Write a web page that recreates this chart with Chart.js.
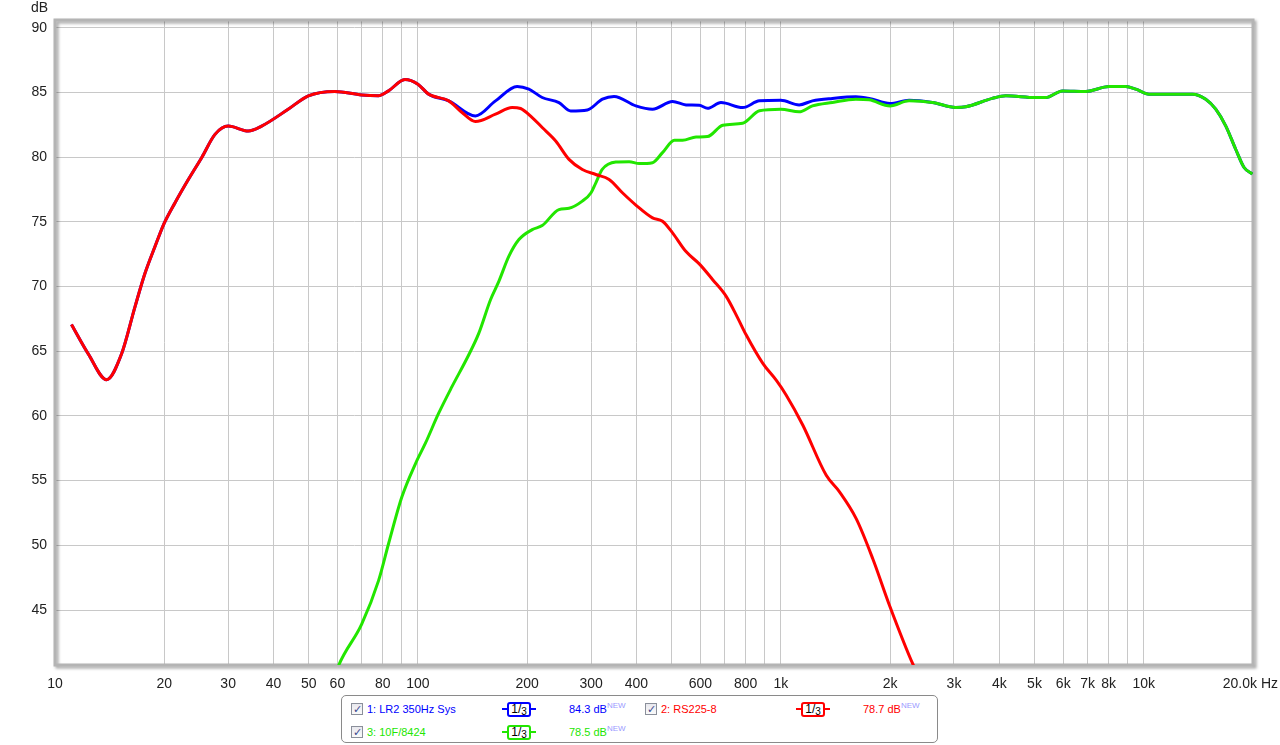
<!DOCTYPE html>
<html lang="en">
<head>
    <meta charset="UTF-8">
    <title>Frequency response</title>
    <script src="https://cdn.jsdelivr.net/npm/chart.js"></script>
    <style>
        body { margin: 0; background: #fff; font-family: 'Liberation Sans', Arial, sans-serif; }
        #wrap { position: relative; width: 1280px; height: 745px; overflow: hidden; }
        #chart { position: absolute; left: 0; top: 0; }
        .axisText { position: absolute; font-size: 14px; line-height: 16px; color: #222; white-space: nowrap; }
        #legend { position: absolute; left: 341px; top: 695px; width: 595px; height: 46px;
                  border: 1px solid #8a8a8a; border-radius: 5px; background: #fff; }
        .item { position: absolute; font-size: 11px; line-height: 14px; white-space: nowrap; }
        .chk { position: absolute; width: 10px; height: 10px; border: 1px solid #8a8f9a;
               background: linear-gradient(#e8e8ee, #fafafa); font-size: 11px; line-height: 10px;
               text-align: center; color: #3a4a90; }
        .frac { position: absolute; width: 34px; height: 15px; }
        .frac .ln { position: absolute; left: 0; top: 6px; width: 34px; height: 2px; }
        .frac .bx { position: absolute; left: 5px; top: 0; width: 20px; height: 11px; border: 2px solid;
                    border-radius: 3px; background: #fff; color: #000; font-size: 12px; line-height: 11px;
                    text-align: center; }
        .frac sub { font-size: 10px; vertical-align: -2px; line-height: 0; }
        .new { font-size: 8px; color: #9a9aff; vertical-align: 5px; line-height: 0; }
    </style>
</head>
<body>
<div id="wrap">
    <canvas id="chart" width="1280" height="745"></canvas>
    <div class="axisText" style="left:31px; top:-1px;">dB</div>
    <div class="axisText" style="right:2px; top:675px;">20.0k Hz</div>
    <div id="legend"></div>
</div>
<script>
    // 1: LR2 350Hz Sys (blue)
    const sysFreq = [11.1, 12.35, 13.88, 15.26, 16.61, 17.7, 18.86, 20, 21.4, 23.3, 25.4, 27.6, 30, 34.1, 37.1,
        43.9, 49.9, 59, 70, 77.8, 82.8, 92.1, 100, 107, 121.6, 144, 163.6, 187.7, 202.2, 220, 244.7, 263.6,
        293, 322.4, 347, 398.6, 443, 503, 548, 596, 628, 684, 785, 873, 1000, 1123, 1222, 1387, 1609, 1751,
        2000, 2256, 2616, 3034, 3233, 3827, 4168, 5040, 5370, 5968, 6922, 8024, 8920, 9506, 10343, 11500,
        13610, 14820, 15790, 16820, 17920, 18900, 19920];
    const sysDb = [67.07, 64.8, 62.8, 64.8, 68.43, 71.02, 73.09, 74.9, 76.46, 78.27, 80.0, 81.76, 82.4, 82.02, 82.4,
        83.7, 84.74, 85.08, 84.8, 84.74, 85.1, 86.0, 85.64, 84.87, 84.35, 83.18, 84.35, 85.47, 85.26, 84.61, 84.22, 83.57,
        83.65, 84.48, 84.69, 83.96, 83.7, 84.3, 84.04, 84.01, 83.78, 84.22, 83.83, 84.35, 84.4, 84.04, 84.35, 84.54, 84.66, 84.54,
        84.15, 84.4, 84.23, 83.84, 83.89, 84.54, 84.74, 84.61, 84.61, 85.12, 85.08, 85.46, 85.46, 85.26, 84.87, 84.87,
        84.87, 84.48, 83.71, 82.42, 80.61, 79.2, 78.7];

    // 2: RS225-8 (red)
    const wooferFreq = [11.1, 12.35, 13.88, 15.26, 16.61, 17.7, 18.86, 20, 21.4, 23.3, 25.4, 27.6, 30, 34.1, 37.1,
        43.9, 49.9, 59, 70, 77.8, 82.8, 92.1, 100, 107, 121.6, 132.3, 144, 163.6, 181.8, 191.8, 206.5, 220, 239.7,
        260.8, 283.8, 309, 336.4, 366, 398.6, 443, 472, 503, 548, 596, 649, 707, 761, 803, 892, 971, 1035,
        1150, 1334, 1451, 1613, 1792, 1993, 2310, 2400];
    const wooferDb = [67.07, 64.8, 62.8, 64.8, 68.43, 71.02, 73.09, 74.9, 76.46, 78.27, 80.0, 81.76, 82.4, 82.02, 82.4,
        83.7, 84.74, 85.08, 84.8, 84.74, 85.1, 86.0, 85.64, 84.87, 84.35, 83.45, 82.75, 83.32, 83.84, 83.76, 83.06, 82.29, 81.25,
        79.83, 79.05, 78.66, 78.28, 77.25, 76.3, 75.31, 75.05, 74.15, 72.7, 71.75, 70.53, 69.24, 67.56, 66.25, 64.06, 62.76, 61.6,
        59.28, 55.41, 54.13, 52.06, 48.96, 45.35, 40.83, 39.9];

    // 3: 10F/8424 (green)
    const tweeterFreq = [59, 60.4, 70, 77.9, 83, 90.3, 98.5, 104.8, 114, 124.1, 138, 147.2, 158.5, 167.1, 178, 189.8,
        206.5, 220, 244.7, 260.8, 283.8, 300, 309, 322, 351, 382, 407, 443, 472, 509, 536, 584, 628, 692, 785,
        873, 1000, 1123, 1222, 1387, 1609, 1751, 2000, 2256, 2616, 3034, 3233, 3827, 4168, 5040, 5370, 5968,
        6922, 8024, 8920, 9506, 10343, 11500, 13610, 14820, 15790, 16820, 17920, 18900, 19920];
    const tweeterDb = [39.8, 40.68, 43.91, 47.27, 50.12, 53.73, 56.32, 57.87, 60.19, 62.26, 64.71, 66.4, 68.98, 70.4, 72.33, 73.63,
        74.4, 74.71, 75.95, 76.05, 76.6, 77.25, 78.0, 79.05, 79.62, 79.65, 79.5, 79.57, 80.35, 81.3, 81.3, 81.56, 81.59, 82.47, 82.62,
        83.58, 83.7, 83.5, 83.96, 84.23, 84.48, 84.43, 83.96, 84.35, 84.23, 83.84, 83.89, 84.54, 84.74, 84.61, 84.61, 85.12,
        85.08, 85.46, 85.46, 85.26, 84.87, 84.87, 84.87, 84.48, 83.71, 82.42, 80.61, 79.2, 78.7];

    // axis ticks
    const xGridValues = [10, 20, 30, 40, 50, 60, 70, 80, 90, 100, 200, 300, 400, 500, 600, 700, 800, 900,
        1000, 2000, 3000, 4000, 5000, 6000, 7000, 8000, 9000, 10000, 20000];
    const xLabelValues = [10, 20, 30, 40, 50, 60, 80, 100, 200, 300, 400, 600, 800,
        1000, 2000, 3000, 4000, 5000, 6000, 7000, 8000, 10000];
    const yTickValues = [45, 50, 55, 60, 65, 70, 75, 80, 85, 90];

    // legend
    const seriesNames = ['1: LR2 350Hz Sys', '2: RS225-8', '3: 10F/8424'];
    const seriesLevels = ['84.3 dB', '78.7 dB', '78.5 dB'];
    const seriesColors = ['#0000ff', '#ff0000', '#22e600'];

    const FONT = "'Liberation Sans', Arial, sans-serif";
    const zip = (xs, ys) => xs.map((x, i) => ({ x: x, y: ys[i] }));
    const fmt = v => v >= 1000 ? (v / 1000) + 'k' : String(v);

    // legend box (html)
    const legend = document.getElementById('legend');
    seriesNames.forEach((name, i) => {
        const col = i === 1 ? 1 : 0;
        const row = i === 2 ? 1 : 0;
        const dx = col * 294;
        const cy = row === 0 ? 13 : 36;
        const c = seriesColors[i];
        legend.insertAdjacentHTML('beforeend',
            `<div class="chk" style="left:${9 + dx}px; top:${cy - 6}px;">&#10003;</div>` +
            `<div class="item" style="left:${25 + dx}px; top:${cy - 7}px; color:${c};">${name}</div>` +
            `<div class="frac" style="left:${160 + dx}px; top:${cy - 7}px;"><div class="ln" style="background:${c}"></div>` +
            `<div class="bx" style="border-color:${c}">1/<sub>3</sub></div></div>` +
            `<div class="item" style="left:${227 + dx}px; top:${cy - 7}px; color:${c};">${seriesLevels[i]}<span class="new">NEW</span></div>`);
    });

    // grey frame with a soft shadow round the plot area
    const framePlugin = {
        id: 'frame',
        beforeDatasetsDraw(chart) {
            const { ctx, chartArea: a } = chart;
            ctx.save();
            ctx.shadowColor = 'rgba(0,0,0,0.35)';
            ctx.shadowBlur = 3;
            ctx.shadowOffsetX = 2;
            ctx.shadowOffsetY = 2;
            ctx.strokeStyle = '#b4b4b4';
            ctx.lineWidth = 3;
            ctx.strokeRect(a.left, a.top, a.right - a.left, a.bottom - a.top);
            ctx.restore();
        }
    };

    const lineStyle = { borderWidth: 3, pointRadius: 0, fill: false, cubicInterpolationMode: 'monotone' };

    new Chart(document.getElementById('chart').getContext('2d'), {
        type: 'line',
        data: {
            datasets: [
                { ...lineStyle, label: seriesNames[1], data: zip(wooferFreq, wooferDb), borderColor: seriesColors[1], order: 0 },
                { ...lineStyle, label: seriesNames[2], data: zip(tweeterFreq, tweeterDb), borderColor: seriesColors[2], order: 1 },
                { ...lineStyle, label: seriesNames[0], data: zip(sysFreq, sysDb), borderColor: seriesColors[0], order: 2 }
            ]
        },
        options: {
            responsive: false,
            animation: false,
            layout: { padding: { left: 0, top: 20, right: 27, bottom: 0 } },
            plugins: { legend: { display: false }, tooltip: { enabled: false } },
            scales: {
                x: {
                    type: 'logarithmic',
                    min: 10,
                    max: 20000,
                    afterBuildTicks: s => { s.ticks = xGridValues.map(v => ({ value: v })); },
                    afterFit: s => { s.height = 80; },
                    ticks: {
                        autoSkip: false,
                        maxRotation: 0,
                        padding: 11,
                        color: '#222',
                        font: { family: FONT, size: 14 },
                        callback: v => xLabelValues.includes(v) ? fmt(v) : ''
                    },
                    grid: { color: '#c8c8c8', drawTicks: false },
                    border: { display: false }
                },
                y: {
                    min: 40.75,
                    max: 90.6,
                    afterBuildTicks: s => { s.ticks = yTickValues.map(v => ({ value: v })); },
                    afterFit: s => { s.width = 55; },
                    ticks: {
                        padding: 8,
                        color: '#222',
                        font: { family: FONT, size: 14 }
                    },
                    grid: { color: '#c8c8c8', drawTicks: false },
                    border: { display: false }
                }
            }
        },
        plugins: [framePlugin]
    });
</script>
</body>
</html>
